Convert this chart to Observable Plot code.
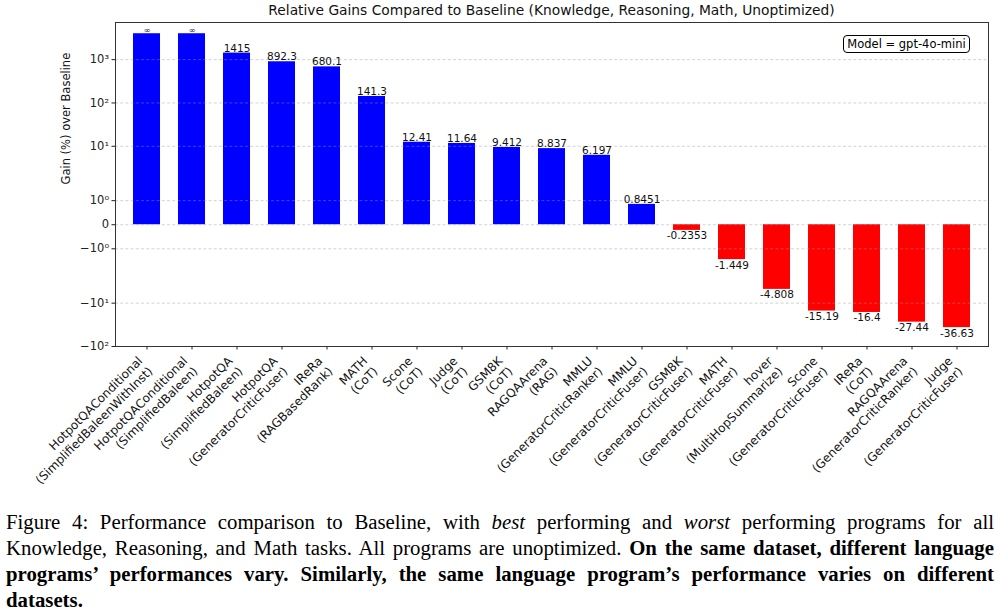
<!DOCTYPE html>
<html><head><meta charset="utf-8">
<script src="https://cdn.jsdelivr.net/npm/d3@7"></script>
<script src="https://cdn.jsdelivr.net/npm/@observablehq/plot@0.6"></script>
<style>
body{margin:0;background:#fff;font-family:"DejaVu Sans",sans-serif;}
#wrap{position:relative;width:1000px;height:613px;overflow:hidden;background:#fff}
#chart{position:absolute;left:0;top:0}
#title{position:absolute;left:115px;width:873px;top:2px;text-align:center;font-size:13.8px;color:#111;white-space:nowrap}
#model{position:absolute;left:843px;top:35px;width:125px;height:16px;border:1.2px solid #000;border-radius:4px;font-size:11.5px;line-height:16px;text-align:center;background:#fff;color:#000;white-space:nowrap}
#caption{position:absolute;left:6px;width:988px;top:509px;font-family:"Liberation Serif","Times New Roman",serif;font-size:20.8px;line-height:26px;color:#000}
.j{text-align:justify;text-align-last:justify;white-space:nowrap}
</style></head>
<body>
<div id="wrap">
  <div id="chart"></div>
  <div id="title">Relative Gains Compared to Baseline (Knowledge, Reasoning, Math, Unoptimized)</div>
  <div id="model">Model = gpt-4o-mini</div>
  <div id="caption">
    <div class="j">Figure 4: Performance comparison to Baseline, with <i>best</i> performing and <i>worst</i> performing programs for all</div>
    <div class="j">Knowledge, Reasoning, and Math tasks. All programs are unoptimized. <b>On the same dataset, different language</b></div>
    <div class="j"><b>programs’ performances vary. Similarly, the same language program’s performance varies on different</b></div>
    <div><b>datasets.</b></div>
  </div>
</div>
<script>
// ---- data ----
const programs = [
  "HotpotQAConditional\n(SimplifiedBaleenWithInst)",
  "HotpotQAConditional\n(SimplifiedBaleen)",
  "HotpotQA\n(SimplifiedBaleen)",
  "HotpotQA\n(GeneratorCriticFuser)",
  "IReRa\n(RAGBasedRank)",
  "MATH\n(CoT)",
  "Scone\n(CoT)",
  "Judge\n(CoT)",
  "GSM8K\n(CoT)",
  "RAGQAArena\n(RAG)",
  "MMLU\n(GeneratorCriticRanker)",
  "MMLU\n(GeneratorCriticFuser)",
  "GSM8K\n(GeneratorCriticFuser)",
  "MATH\n(GeneratorCriticFuser)",
  "hover\n(MultiHopSummarize)",
  "Scone\n(GeneratorCriticFuser)",
  "IReRa\n(CoT)",
  "RAGQAArena\n(GeneratorCriticRanker)",
  "Judge\n(GeneratorCriticFuser)"
];
const gains = [Infinity, Infinity, 1415, 892.3, 680.1, 141.3, 12.41, 11.64, 9.412, 8.837, 6.197, 0.8451, -0.2353, -1.449, -4.808, -15.19, -16.4, -27.44, -36.63];
const infBarHeight = 3960;       // height at which the infinite gains are drawn
const yTicks = [-100, -10, -1, 0, 1, 10, 100, 1000];
const yTickLabels = ["−10²", "−10¹", "−10⁰", "0", "10⁰", "10¹", "10²", "10³"];
const yLimits = [-100, 7190];
const yLabel = "Gain (%) over Baseline";

// matplotlib-style symlog (base 10, linthresh 2, linscale 1)
const linthresh = 2, linscale = 1;
const adj = linscale / (1 - 1 / 10);
function symlog(v) {
  const a = Math.abs(v);
  return a <= linthresh ? (v / linthresh) * adj : Math.sign(v) * (adj + Math.log10(a / linthresh));
}

const rows = programs.map((name, i) => {
  const v = gains[i];
  const inf = !isFinite(v);
  return {name, value: v, inf, plot: inf ? infBarHeight : v, label: inf ? "∞" : String(Number(v.toPrecision(4)))};
});
const labelMap = new Map(yTicks.map((t, i) => [symlog(t), yTickLabels[i]]));
const tickPos = yTicks.map(symlog);

const chart = Plot.plot({
  width: 1000,
  height: 500,
  marginTop: 22,
  marginBottom: 154,
  marginLeft: 115,
  marginRight: 12,
  style: {fontFamily: "DejaVu Sans, sans-serif", color: "#222", background: "#fff"},
  x: {type: "band", domain: programs, paddingInner: 0.4, paddingOuter: 0.2, label: null},
  y: {type: "linear", domain: yLimits.map(symlog), label: null},
  marks: [
    Plot.barY(rows.filter(d => d.value > 0), {x: "name", y1: d => 0, y2: d => symlog(d.plot), fill: "#0000ff"}),
    Plot.barY(rows.filter(d => d.value < 0), {x: "name", y1: d => 0, y2: d => symlog(d.plot), fill: "#ff0000"}),
    Plot.gridY(tickPos, {stroke: "#999", strokeOpacity: 0.55, strokeDasharray: "3,2.2", strokeWidth: 0.8}),
    Plot.text(rows.filter(d => d.value > 0 && !d.inf), {x: "name", y: d => symlog(d.plot), text: "label", lineAnchor: "bottom", dy: -1.5, fontSize: 10.5, fill: "#111"}),
    Plot.text(rows.filter(d => d.inf), {x: "name", y: d => symlog(d.plot), text: "label", lineAnchor: "bottom", dy: -1, fontSize: 8.5, fill: "#111"}),
    Plot.text(rows.filter(d => d.value < 0), {x: "name", y: d => symlog(d.plot), text: "label", lineAnchor: "top", dy: 1.5, fontSize: 10.5, fill: "#111"}),
    Plot.axisY({ticks: tickPos, tickFormat: d => labelMap.get(d), tickSize: 3.5, tickPadding: 3, fontSize: 11.5, label: null}),
    Plot.axisX({tickSize: 3.5, text: null, label: null}),
    Plot.text(rows, {x: "name", frameAnchor: "bottom", text: "name", rotate: -45, textAnchor: "end", lineAnchor: "top", lineHeight: 1.2, dx: -11, dy: 8, fontSize: 12, fill: "#111"}),
    Plot.text([yLabel], {text: d => d, frameAnchor: "left", dx: -49, rotate: -90, fontSize: 11.5, fill: "#111"}),
    Plot.frame({stroke: "#333", strokeWidth: 1})
  ]
});
document.getElementById("chart").appendChild(chart);
</script>
</body></html>
